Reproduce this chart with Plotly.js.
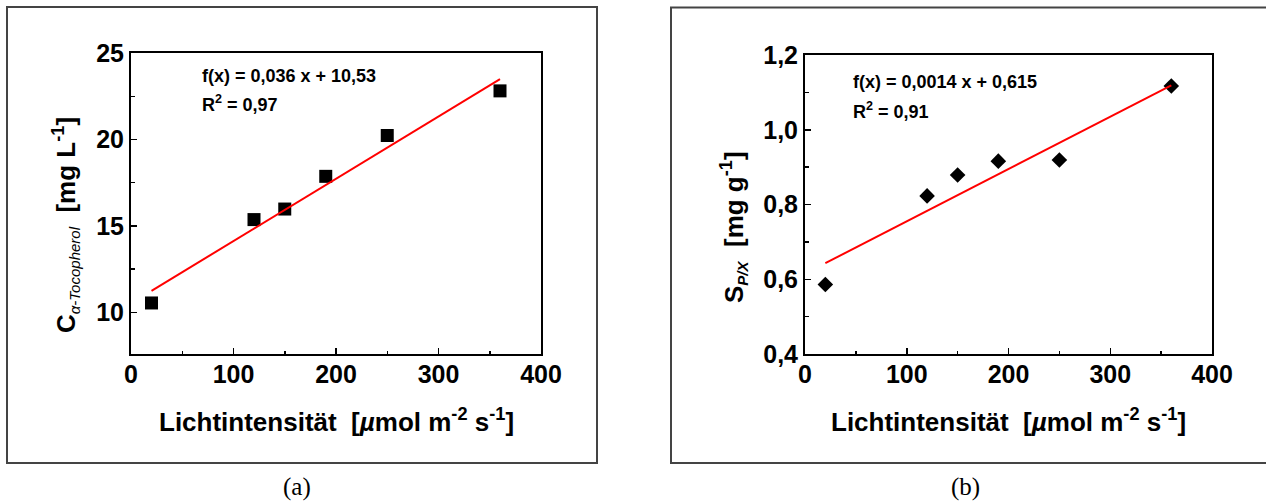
<!DOCTYPE html>
<html>
<head>
<meta charset="utf-8">
<script src="https://cdn.plot.ly/plotly-3.0.1.min.js"></script>
<style>
  html, body { margin: 0; padding: 0; background: #fff; }
  #chart { width: 1266px; height: 502px; }
</style>
</head>
<body>
<div id="chart"></div>
<script>
// ---- data ----
const lightIntensity = [20, 120, 150, 190, 250, 360];
const tocopherolConc = [10.55, 15.37, 15.98, 17.87, 20.23, 22.81];
const yieldSPX = [0.586, 0.823, 0.879, 0.916, 0.919, 1.117];
const fitSlopes = [0.036, 0.0014];
const fitIntercepts = [10.53, 0.615];
const fitEquations = ["f(x) = 0,036 x + 10,53", "f(x) = 0,0014 x + 0,615"];
const fitR2 = ["0,97", "0,91"];
const xTicks = [0, 100, 200, 300, 400];
const yTicksA = [10, 15, 20, 25];
const yTicksB = [0.4, 0.6, 0.8, 1.0, 1.2];
const panelLabels = ["(a)", "(b)"];

const W = 1266, H = 502;
const px = v => v / W;
const py = v => 1 - v / H;

const xMin = Math.min(...lightIntensity), xMax = Math.max(...lightIntensity);
const fitX = [xMin, xMax];
const fitYa = fitX.map(x => fitSlopes[0] * x + fitIntercepts[0]);
const fitYb = fitX.map(x => fitSlopes[1] * x + fitIntercepts[1]);

const traces = [
  { x: lightIntensity, y: tocopherolConc, type: 'scatter', mode: 'markers',
    marker: { symbol: 'square', size: 13, color: '#000' }, xaxis: 'x', yaxis: 'y', showlegend: false },
  { x: fitX, y: fitYa, type: 'scatter', mode: 'lines',
    line: { color: '#ff0000', width: 2 }, xaxis: 'x', yaxis: 'y', showlegend: false },
  { x: lightIntensity, y: yieldSPX, type: 'scatter', mode: 'markers',
    marker: { symbol: 'diamond', size: 12, color: '#000' }, xaxis: 'x2', yaxis: 'y2', showlegend: false },
  { x: fitX, y: fitYb, type: 'scatter', mode: 'lines',
    line: { color: '#ff0000', width: 2 }, xaxis: 'x2', yaxis: 'y2', showlegend: false }
];

const tickFont = { family: 'Liberation Sans, Arial, sans-serif', size: 25, color: '#000', weight: 'bold' };
const axisCommon = {
  showgrid: false, zeroline: false, showline: true, linecolor: '#000', linewidth: 2,
  mirror: true, ticks: 'inside', ticklen: 6, tickwidth: 1.5, tickcolor: '#000',
  tickfont: tickFont, fixedrange: true
};

const layout = {
  width: W, height: H,
  margin: { l: 0, r: 0, t: 0, b: 0 },
  paper_bgcolor: '#fff', plot_bgcolor: '#fff',
  separators: ',.',
  showlegend: false,
  xaxis: Object.assign({}, axisCommon, {
    domain: [px(131), px(541)], range: [0, 400], tickvals: xTicks,
    minor: { tickvals: [50, 150, 250, 350], ticks: 'inside', ticklen: 3.5, tickwidth: 1.5, tickcolor: '#000' },
    anchor: 'y', ticklabelstandoff: -3
  }),
  yaxis: Object.assign({}, axisCommon, {
    domain: [1 - 354 / H, 1 - 53 / H], range: [7.6, 25], tickvals: yTicksA,
    minor: { tickvals: [12.5, 17.5, 22.5], ticks: 'inside', ticklen: 3.5, tickwidth: 1.5, tickcolor: '#000' },
    anchor: 'x', ticklabelstandoff: 0
  }),
  xaxis2: Object.assign({}, axisCommon, {
    domain: [px(805), px(1212)], range: [0, 400], tickvals: xTicks,
    minor: { tickvals: [50, 150, 250, 350], ticks: 'inside', ticklen: 3.5, tickwidth: 1.5, tickcolor: '#000' },
    anchor: 'y2', ticklabelstandoff: -3
  }),
  yaxis2: Object.assign({}, axisCommon, {
    domain: [1 - 354 / H, 1 - 55 / H], range: [0.4, 1.2], tickvals: yTicksB, tickformat: '.1f',
    minor: { tickvals: [0.5, 0.7, 0.9, 1.1], ticks: 'inside', ticklen: 3.5, tickwidth: 1.5, tickcolor: '#000' },
    anchor: 'x2', ticklabelstandoff: 0
  }),
  shapes: [
    { type: 'rect', xref: 'paper', yref: 'paper', x0: px(7), x1: px(597), y0: py(463), y1: py(7),
      line: { color: '#444', width: 2 }, fillcolor: 'rgba(0,0,0,0)', layer: 'below' },
    { type: 'rect', xref: 'paper', yref: 'paper', x0: px(671), x1: px(1275), y0: py(463), y1: py(7.5),
      line: { color: '#444', width: 2 }, fillcolor: 'rgba(0,0,0,0)', layer: 'below' }
  ],
  annotations: []
};

const annFont = { family: 'Liberation Sans, Arial, sans-serif', size: 18, color: '#000', weight: 'bold' };
const titleFont = { family: 'Liberation Sans, Arial, sans-serif', size: 26, color: '#000', weight: 'bold' };
const A = layout.annotations;
function ann(x, y, text, font, extra) {
  A.push(Object.assign({ xref: 'paper', yref: 'paper', x: px(x), y: py(y), text: text, showarrow: false,
    font: font, xanchor: 'center', yanchor: 'middle' }, extra || {}));
}
// fit equations
ann(200, 76, fitEquations[0], annFont, { xanchor: 'left' });
ann(200, 103, 'R<sup>2</sup> = ' + fitR2[0], annFont, { xanchor: 'left' });
ann(851, 82, fitEquations[1], annFont, { xanchor: 'left' });
ann(851, 110, 'R<sup>2</sup> = ' + fitR2[1], annFont, { xanchor: 'left' });
// x titles
const xTitle = 'Lichtintensität  [<i>µ</i>mol m<sup>-2</sup> s<sup>-1</sup>]';
ann(336, 420, xTitle, titleFont);
ann(1008, 420, xTitle, titleFont);
// y titles
ann(65, 225, 'C<sub><span style="font-size:15px;font-weight:normal"><i>α-Tocopherol</i></span></sub>  [mg L<sup>-1</sup>]', titleFont, { textangle: -90 });
ann(733, 227, 'S<sub><span style="font-size:15px"><i>P/X</i></span></sub>  [mg g<sup>-1</sup>]', titleFont, { textangle: -90 });
// panel labels
const serif = { family: 'Liberation Serif, DejaVu Serif, serif', size: 25, color: '#000' };
ann(297, 487, panelLabels[0], serif);
ann(965, 487, panelLabels[1], serif);

Plotly.newPlot('chart', traces, layout, { displayModeBar: false, staticPlot: true });
</script>
</body>
</html>
